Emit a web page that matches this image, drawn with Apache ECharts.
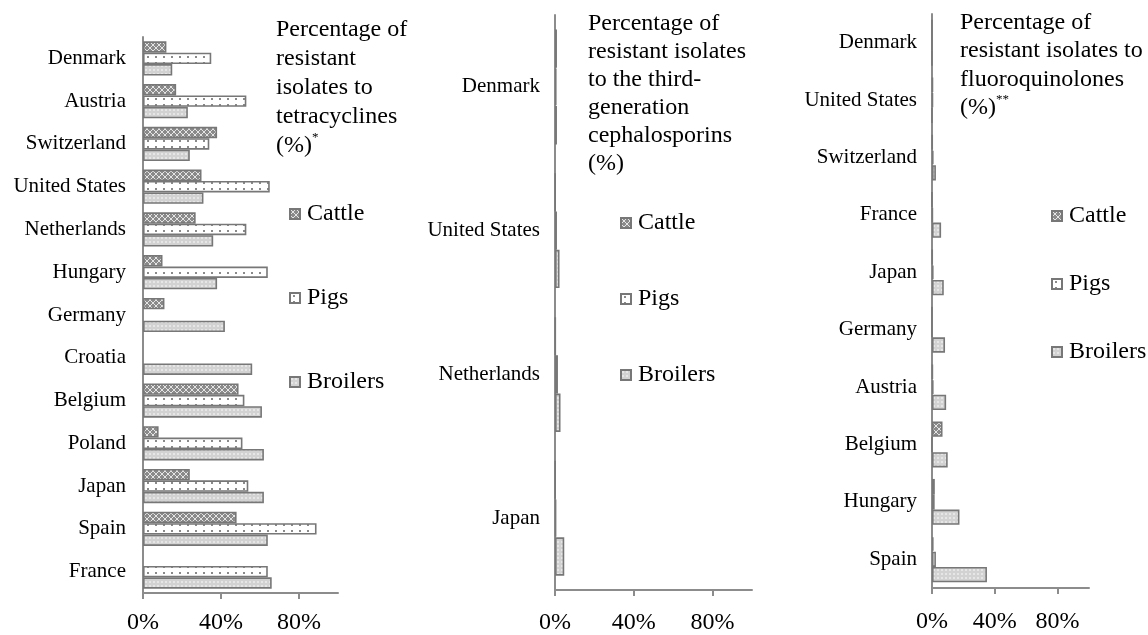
<!DOCTYPE html>
<html>
<head>
<meta charset="utf-8">
<script src="https://cdn.jsdelivr.net/npm/echarts@6/dist/echarts.min.js"></script>
<style>
html,body{margin:0;padding:0;background:#fff;}
#chart{width:1148px;height:635px;}
</style>
</head>
<body>
<div id="chart"></div>
<script>
// ---- Data ----
const seriesNames = ['Cattle', 'Pigs', 'Broilers'];
const tickValues = [0, 40, 80];

const tetraCountries = ['Denmark','Austria','Switzerland','United States','Netherlands','Hungary','Germany','Croatia','Belgium','Poland','Japan','Spain','France'];
const tetraCattle   = [12, 17, 38, 30, 27, 10, 11, null, 49, 8, 24, 48, null];
const tetraPigs     = [35, 53, 34, 65, 53, 64, null, null, 52, 51, 54, 89, 64];
const tetraBroilers = [15, 23, 24, 31, 36, 38, 42, 56, 61, 62, 62, 64, 66];

const cephCountries = ['Denmark','United States','Netherlands','Japan'];
const cephCattle   = [1.0, 0.2, 0.3, 0.2];
const cephPigs     = [0.8, 1.0, 1.5, 0.6];
const cephBroilers = [1.0, 2.3, 2.8, 4.7];

const fluoroCountries = ['Denmark','United States','Switzerland','France','Japan','Germany','Austria','Belgium','Hungary','Spain'];
const fluoroCattle   = [0, 0.6, 0.3, 0, 0.3, 0, 0.5, 6.7, 1.8, 1];
const fluoroPigs     = [0, 0.6, 1, 0.5, 1, 0, 1, 0, 1.7, 2.5];
const fluoroBroilers = [0, 0, 2.5, 5.8, 7.5, 8.3, 9, 10, 17.5, 35];

// ---- Patterns ----
function makePattern(kind) {
  const c = document.createElement('canvas');
  const ctx = c.getContext('2d');
  if (kind === 'cattle') {
    c.width = 6; c.height = 6;
    ctx.fillStyle = '#8a8a8a'; ctx.fillRect(0, 0, 6, 6);
    ctx.strokeStyle = '#e4e4e4'; ctx.lineWidth = 1;
    ctx.beginPath();
    ctx.moveTo(0, 0); ctx.lineTo(6, 6);
    ctx.moveTo(6, 0); ctx.lineTo(0, 6);
    ctx.stroke();
  } else if (kind === 'pigs') {
    c.width = 8; c.height = 6;
    ctx.fillStyle = '#ffffff'; ctx.fillRect(0, 0, 8, 6);
    ctx.fillStyle = '#8a8a8a'; ctx.fillRect(3, 2, 2, 2);
  } else {
    c.width = 4; c.height = 4;
    ctx.fillStyle = '#d2d2d2'; ctx.fillRect(0, 0, 4, 4);
    ctx.fillStyle = '#ffffff'; ctx.fillRect(1, 1, 2, 2);
    ctx.fillStyle = '#9a9a9a'; ctx.fillRect(1.5, 1.5, 1, 1);
  }
  return { image: c, repeat: 'repeat' };
}
const fills = [makePattern('cattle'), makePattern('pigs'), makePattern('broilers')];

const FONT = 'Liberation Serif';
const AXIS_COLOR = '#8c8c8c';

const grids = [
  { left: 143, top: 37, width: 195, height: 556 },
  { left: 555, top: 15, width: 197, height: 581 },
  { left: 932, top: 14, width: 157, height: 574 }
];
const labelMargins = [18, 21, 22];
const catMargins = [17, 15, 15];
const countryLists = [tetraCountries, cephCountries, fluoroCountries];
const dataSets = [
  [tetraCattle, tetraPigs, tetraBroilers],
  [cephCattle, cephPigs, cephBroilers],
  [fluoroCattle, fluoroPigs, fluoroBroilers]
];

const xAxes = grids.map((g, i) => ({
  type: 'value', gridIndex: i, min: 0, max: 100, interval: 40,
  axisLine: { show: true, lineStyle: { color: AXIS_COLOR, width: 2 } },
  axisTick: { show: true, length: 6, customValues: tickValues, lineStyle: { color: AXIS_COLOR, width: 2 } },
  axisLabel: { customValues: tickValues, formatter: '{value}%', fontFamily: FONT, fontSize: 24, color: '#000', margin: labelMargins[i] },
  splitLine: { show: false }
}));
const yAxes = grids.map((g, i) => ({
  type: 'category', gridIndex: i, inverse: true, data: countryLists[i],
  axisLine: { show: true, lineStyle: { color: AXIS_COLOR, width: 2 } },
  axisTick: { show: false },
  axisLabel: { fontFamily: FONT, fontSize: 21, color: '#000', margin: catMargins[i] }
}));

const series = [];
dataSets.forEach((set, gi) => {
  set.forEach((vals, si) => {
    series.push({
      type: 'bar', name: seriesNames[si], xAxisIndex: gi, yAxisIndex: gi,
      data: vals, barGap: '0%', barCategoryGap: '20%',
      itemStyle: { color: fills[si], borderColor: '#777777', borderWidth: 1.6 },
      silent: true
    });
  });
});

const titleStyle = {
  fontFamily: FONT, fontSize: 24, fontWeight: 'normal', color: '#000', lineHeight: 29,
  rich: { sup: { fontFamily: FONT, fontSize: 13, color: '#000', verticalAlign: 'top', lineHeight: 29, padding: [0, 0, 12, 0] } }
};
const titles = [
  { left: 276, top: 15, padding: 0, text: 'Percentage of\nresistant\nisolates to\ntetracyclines\n(%){sup|*}', textStyle: titleStyle },
  { left: 588, top: 10, padding: 0, text: 'Percentage of\nresistant isolates\nto the third-\ngeneration\ncephalosporins\n(%)', textStyle: Object.assign({}, titleStyle, { lineHeight: 28 }) },
  { left: 960, top: 8, padding: 0, text: 'Percentage of\nresistant isolates to\nfluoroquinolones\n(%){sup|**}', textStyle: Object.assign({}, titleStyle, { lineHeight: 28.5 }) }
];

function legendAt(left, top, gap) {
  return {
    orient: 'vertical', left: left, top: top, itemGap: gap, padding: 0,
    itemWidth: 10, itemHeight: 10, icon: 'rect', selectedMode: false,
    data: seriesNames,
    textStyle: { fontFamily: FONT, fontSize: 24, color: '#000', padding: [0, 0, 0, 2] }
  };
}

const option = {
  animation: false,
  backgroundColor: '#fff',
  title: titles,
  legend: [legendAt(289, 202, 60), legendAt(620, 211, 52), legendAt(1051, 204, 44)],
  grid: grids,
  xAxis: xAxes,
  yAxis: yAxes,
  series: series
};

const chart = echarts.init(document.getElementById('chart'), null, { renderer: 'canvas' });
chart.setOption(option);
</script>
</body>
</html>
